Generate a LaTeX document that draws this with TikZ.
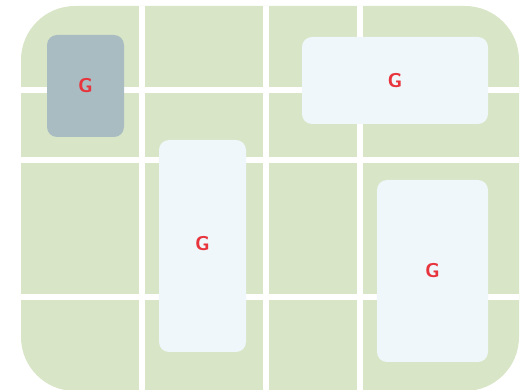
\documentclass[tikz,border=0pt]{standalone}
\definecolor{cellGreen}{HTML}{D9E5C7}
\definecolor{tileGray}{HTML}{A8BCC2}
\definecolor{tileLight}{HTML}{EFF7FB}
\definecolor{markRed}{HTML}{E8343C}

\begin{document}
\begin{tikzpicture}[x=1pt, y=-1pt,
    tile/.style={rounded corners=10pt, inner sep=0pt, text=markRed,
        font=\sffamily\bfseries\fontsize{20}{24}\selectfont}]

    \useasboundingbox (0,0) rectangle (520,390);

    % background
    \fill[cellGreen, rounded corners=54pt] (21,6) rectangle (519,391);

    % grid
    \foreach \x in {142,266,360}
        \draw[white, line width=6pt] (\x,6) -- (\x,391);
    \foreach \y in {90,160,297}
        \draw[white, line width=6pt] (21,\y) -- (519,\y);

    % tiles
    \node[tile, fill=tileGray, minimum width=77pt, minimum height=102pt] (topleft) at (85.5,86) {G};
    \node[tile, fill=tileLight, minimum width=186pt, minimum height=87pt] (topright) at (395,80.5) {G};
    \node[tile, fill=tileLight, minimum width=87pt, minimum height=212pt] (middle) at (202.5,246) {\raisebox{5pt}{G}};
    \node[tile, fill=tileLight, minimum width=111pt, minimum height=182pt] (bottomright) at (432.5,271) {G};

\end{tikzpicture}
\end{document}
